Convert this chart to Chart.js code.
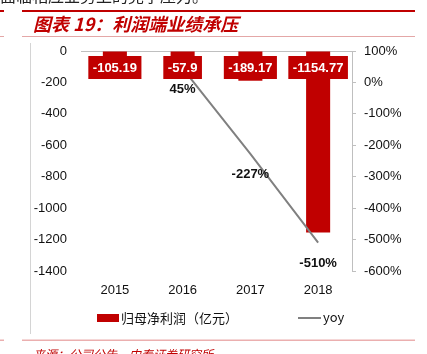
<!DOCTYPE html>
<html>
<head>
<meta charset="utf-8">
<script src="https://cdn.jsdelivr.net/npm/chart.js@4.4.1/dist/chart.umd.min.js"></script>
<style>
  html, body { margin: 0; padding: 0; background: #fff; }
  #wrap { width: 427px; height: 354px; }
</style>
</head>
<body>
<div id="wrap"><canvas id="myChart" width="427" height="354"></canvas></div>
<script>
const years = ['2015', '2016', '2017', '2018'];
const profit = [-105.19, -57.9, -189.17, -1154.77];
const yoy = [null, 45, -227, -510];
const profitLabel = '归母净利润（亿元）';
const yoyLabel = 'yoy';
const titleText = '图表 19：利润端业绩承压';
const sourceText = '来源：公司公告，中泰证券研究所';
const topText = '面临相应业务上的竞争压力。';

const RED = '#C00000';
const CJK = '"Noto Sans CJK SC", "Noto Sans", sans-serif';
const NUM = '"Liberation Sans", Arial, sans-serif';

// page decoration + labels + legend
const decorPlugin = {
    id: 'decor',
    afterDatasetsDraw(chart) {
        const ctx = chart.ctx;
        const y = chart.scales.y;
        const y1 = chart.scales.y1;
        const barMeta = chart.getDatasetMeta(0);
        const lineMeta = chart.getDatasetMeta(1);

        ctx.save();
        // bar value boxes, near the base
        ctx.font = 'bold 13px ' + NUM;
        ctx.textAlign = 'center';
        ctx.textBaseline = 'middle';
        const cy = y.getPixelForValue(0) + 16.5;
        barMeta.data.forEach(function(bar, i) {
            const txt = String(profit[i]);
            const w = ctx.measureText(txt).width + 9;
            ctx.fillStyle = RED;
            ctx.fillRect(bar.x - w / 2, cy - 11.5, w, 23);
            ctx.fillStyle = '#fff';
            ctx.fillText(txt, bar.x, cy + 0.5);
        });

        // yoy labels below points
        ctx.fillStyle = '#111';
        lineMeta.data.forEach(function(pt, i) {
            if (yoy[i] === null) return;
            ctx.fillText(yoy[i] + '%', pt.x, y1.getPixelForValue(yoy[i]) + 21);
        });
        ctx.restore();
    },
    afterDraw(chart) {
        const ctx = chart.ctx;
        ctx.save();
        // text cut at the top
        ctx.fillStyle = '#222';
        ctx.font = '16px ' + CJK;
        ctx.textBaseline = 'alphabetic';
        ctx.textAlign = 'left';
        ctx.fillText(topText, 0, 2);

        // top rule
        ctx.fillStyle = RED;
        ctx.fillRect(22, 10, 393, 2);
        ctx.fillRect(0, 10, 4, 2);
        // under title rule
        ctx.fillStyle = '#E4A7A7';
        ctx.fillRect(22, 36, 393, 1);
        ctx.fillRect(0, 36, 4, 1);
        // bottom rule
        ctx.fillStyle = '#EBAFAF';
        ctx.fillRect(22, 339.5, 393, 1.5);
        ctx.fillRect(0, 339.5, 4, 1.5);

        // frame line on the left
        ctx.fillStyle = '#D4D4D4';
        ctx.fillRect(30, 43, 1, 291);

        // title
        ctx.fillStyle = RED;
        ctx.font = 'italic bold 18px ' + CJK;
        ctx.textBaseline = 'middle';
        ctx.fillText(titleText, 33, 24);

        // source
        ctx.font = 'italic 12px ' + CJK;
        ctx.textBaseline = 'alphabetic';
        ctx.fillText(sourceText, 33, 359);

        // legend
        ctx.font = '13px ' + CJK;
        ctx.textBaseline = 'middle';
        ctx.fillStyle = RED;
        ctx.fillRect(97, 314, 22, 8);
        ctx.fillStyle = '#111';
        ctx.fillText(profitLabel, 121, 318);
        ctx.strokeStyle = '#808080';
        ctx.lineWidth = 2;
        ctx.beginPath();
        ctx.moveTo(298, 318);
        ctx.lineTo(321, 318);
        ctx.stroke();
        ctx.fillText(yoyLabel, 323, 317);
        ctx.restore();
    }
};

const config = {
    data: {
        labels: years,
        datasets: [
            {
                type: 'bar',
                label: profitLabel,
                data: profit,
                backgroundColor: RED,
                categoryPercentage: 1,
                barPercentage: 0.355,
                yAxisID: 'y',
                order: 1
            },
            {
                type: 'line',
                label: yoyLabel,
                data: yoy,
                borderColor: '#808080',
                borderWidth: 2,
                pointRadius: 0,
                tension: 0,
                yAxisID: 'y1',
                order: 0
            }
        ]
    },
    options: {
        responsive: false,
        animation: false,
        layout: { padding: { top: 51, left: 0, right: 0, bottom: 0 } },
        plugins: {
            legend: { display: false },
            tooltip: { enabled: false }
        },
        scales: {
            x: {
                grid: { display: false },
                border: { display: false },
                ticks: { color: '#111', font: { size: 13, family: NUM }, padding: 4 },
                afterFit: function(scale) { scale.height = 83; }
            },
            y: {
                position: 'left',
                min: -1400,
                max: 0,
                ticks: {
                    stepSize: 200,
                    color: '#111',
                    font: { size: 13, family: NUM },
                    padding: 14,
                    callback: function(v) { return String(v); }
                },
                grid: {
                    drawTicks: false,
                    color: function(c) { return c.tick && c.tick.value === 0 ? '#BFBFBF' : 'rgba(0,0,0,0)'; }
                },
                border: { display: false },
                afterFit: function(scale) { scale.width = 81; }
            },
            y1: {
                position: 'right',
                min: -600,
                max: 100,
                ticks: {
                    stepSize: 100,
                    color: '#111',
                    font: { size: 13, family: NUM },
                    padding: 8,
                    callback: function(v) { return v + '%'; }
                },
                grid: { drawOnChartArea: false, tickLength: 4, color: '#BFBFBF' },
                border: { display: true, color: '#BFBFBF' },
                afterFit: function(scale) { scale.width = 75; }
            }
        }
    },
    plugins: [decorPlugin]
};

const myChart = new Chart(document.getElementById('myChart'), config);
</script>
</body>
</html>
